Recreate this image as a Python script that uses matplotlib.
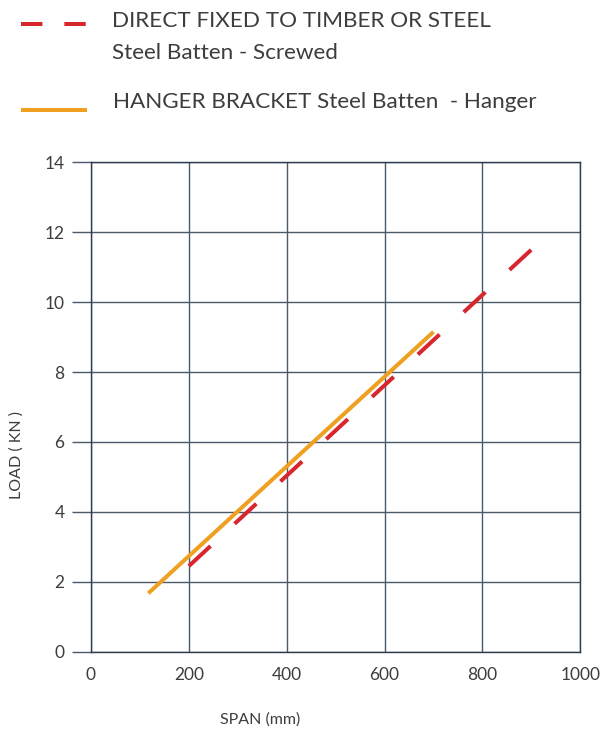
import matplotlib
matplotlib.use("Agg")
import matplotlib.pyplot as plt
from matplotlib.lines import Line2D

plt.rcParams['font.family'] = ['Lato', 'DejaVu Sans']
plt.rcParams['lines.scale_dashes'] = False

# data
screwed_span = [200, 900]
screwed_load = [2.45, 11.5]
hanger_span = [117, 700]
hanger_load = [1.67, 9.15]

x_ticks = [0, 200, 400, 600, 800, 1000]
y_ticks = [0, 2, 4, 6, 8, 10, 12, 14]

label_screwed = ["DIRECT FIXED TO TIMBER OR STEEL", "Steel Batten - Screwed"]
label_hanger = "HANGER BRACKET Steel Batten  - Hanger"

RED = '#d7262e'
ORANGE = '#f0a020'
GRID = '#4a5968'
TXT = '#3d3d3d'

W, H = 608, 733
fig = plt.figure(figsize=(W / 100, H / 100), dpi=100)
ax = fig.add_axes([91 / W, 1 - 651.7 / H, 489.3 / W, 489.4 / H])

ax.plot(screwed_span, screwed_load, color=RED, lw=2.9, dashes=(21.2, 23.7), zorder=3)
ax.plot(hanger_span, hanger_load, color=ORANGE, lw=2.9, solid_capstyle='butt', zorder=3)

ax.set_xlim(0, 1000)
ax.set_ylim(0, 14)
ax.set_xticks(x_ticks)
ax.set_yticks(y_ticks)
ax.grid(True, color=GRID, lw=1.0)
ax.set_axisbelow(True)
for s in ax.spines.values():
    s.set_color('#2c3c4c')
    s.set_linewidth(1.0)
ax.tick_params(axis='y', length=14, width=1.0, color=GRID, pad=5, labelsize=12.5, labelcolor=TXT)
ax.tick_params(axis='x', length=0, pad=11, labelsize=12.5, labelcolor=TXT)

fig.text(260 / W, 1 - 720 / H, "SPAN (mm)", ha='center', va='center', fontsize=11.5, color=TXT)
fig.text(17 / W, 1 - 455 / H, "LOAD ( KN )", ha='center', va='center', rotation=90,
         fontsize=11.5, color=TXT)

# manual legend
fig.add_artist(Line2D([20.6 / W, 86.5 / W], [1 - 23.7 / H, 1 - 23.7 / H], transform=fig.transFigure,
                      color=RED, lw=2.9, dashes=(15.4, 15.8)))
fig.add_artist(Line2D([20.6 / W, 86.5 / W], [1 - 110.3 / H, 1 - 110.3 / H], transform=fig.transFigure,
                      color=ORANGE, lw=2.9, solid_capstyle='butt'))
fig.text(112 / W, 1 - 20.7 / H, label_screwed[0], ha='left', va='center', fontsize=16.2, color=TXT)
fig.text(112 / W, 1 - 52.7 / H, label_screwed[1], ha='left', va='center', fontsize=16.2, color=TXT)
fig.text(113 / W, 1 - 101.7 / H, label_hanger, ha='left', va='center', fontsize=16.2, color=TXT)

fig.savefig('out.png', dpi=100)
